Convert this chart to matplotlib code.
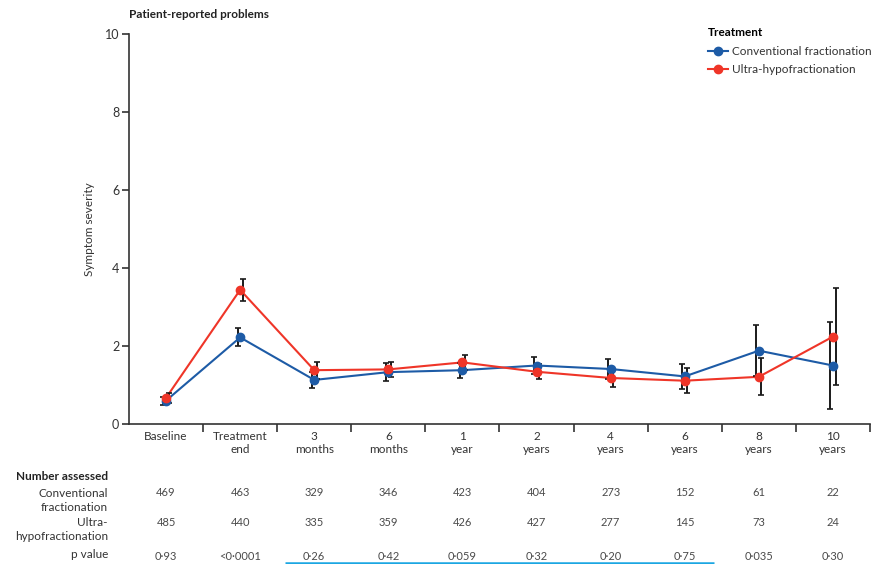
import matplotlib
matplotlib.use("Agg")
import matplotlib.pyplot as plt
import matplotlib.transforms as mtransforms
from matplotlib.lines import Line2D
import numpy as np

plt.rcParams['font.family'] = ['Lato', 'DejaVu Sans']

# Assessment time points
timepoints = ["Baseline", "Treatment\nend", "3\nmonths", "6\nmonths", "1\nyear",
              "2\nyears", "4\nyears", "6\nyears", "8\nyears", "10\nyears"]

# Mean symptom severity and 95% CI half-widths
conv_mean = [0.60, 2.22, 1.13, 1.33, 1.38, 1.50, 1.41, 1.22, 1.88, 1.50]
conv_err = [0.10, 0.23, 0.20, 0.23, 0.19, 0.21, 0.25, 0.32, 0.66, 1.12]
ultra_mean = [0.67, 3.44, 1.38, 1.40, 1.58, 1.34, 1.18, 1.11, 1.21, 2.24]
ultra_err = [0.12, 0.29, 0.22, 0.20, 0.19, 0.19, 0.22, 0.32, 0.47, 1.25]

# Number assessed and p values
n_conv = [469, 463, 329, 346, 423, 404, 273, 152, 61, 22]
n_ultra = [485, 440, 335, 359, 426, 427, 277, 145, 73, 24]
p_values = ["0·93", "<0·0001", "0·26", "0·42", "0·059", "0·32", "0·20", "0·75", "0·035", "0·30"]

blue = "#1d5ba6"
red = "#ef3528"
dark = "#333333"
grey = "#4a4a4a"

fig = plt.figure(figsize=(8.79, 5.64), dpi=100)
ax = fig.add_axes([129 / 879, 140 / 564, 741 / 879, 390 / 564])

x = np.arange(len(timepoints))
dodge = 0.035

ax.plot(x, conv_mean, color=blue, lw=1.5, zorder=2)
ax.plot(x, ultra_mean, color=red, lw=1.5, zorder=2)
ax.errorbar(x - dodge, conv_mean, yerr=conv_err, fmt='none', ecolor="#1a1a1a",
            elinewidth=1.4, capsize=2, capthick=1.2, zorder=3)
ax.errorbar(x + dodge, ultra_mean, yerr=ultra_err, fmt='none', ecolor="#1a1a1a",
            elinewidth=1.4, capsize=2, capthick=1.2, zorder=3)
ax.plot(x, conv_mean, 'o', color=blue, ms=6, zorder=4)
ax.plot(x, ultra_mean, 'o', color=red, ms=6, zorder=4)

ax.set_xlim(-0.5, len(timepoints) - 0.5)
ax.set_ylim(0, 10)
ax.set_yticks([0, 2, 4, 6, 8, 10])
ax.set_xticks(x)
ax.set_xticklabels(timepoints, fontsize=8.5, color=dark, linespacing=1.2)
ax.set_xticks(np.arange(0.5, len(timepoints), 1.0), minor=True)
ax.tick_params(axis='x', which='major', length=0, pad=5)
ax.tick_params(axis='x', which='minor', length=6, width=1.2, color=dark, direction='out')
ax.tick_params(axis='y', length=5, width=1.2, color=dark, labelsize=9, labelcolor=dark, pad=2)

for side in ("top", "right"):
    ax.spines[side].set_visible(False)
for side in ("left", "bottom"):
    ax.spines[side].set_color(dark)
    ax.spines[side].set_linewidth(1.2)

ax.set_ylabel("Symptom severity", fontsize=8.5, color=dark, labelpad=7)

fig.text(129 / 879, 1 - 15 / 564, "Patient-reported problems", fontsize=8.5,
         fontweight='bold', color="#222222", ha='left', va='center')

handles = [Line2D([], [], color=blue, lw=1.5, marker='o', ms=6),
           Line2D([], [], color=red, lw=1.5, marker='o', ms=6)]
leg = ax.legend(handles, ["Conventional fractionation", "Ultra-hypofractionation"],
                loc='upper left', bbox_to_anchor=(708 / 879, 1 - 27 / 564),
                bbox_transform=fig.transFigure, frameon=False, fontsize=8.5,
                title="Treatment", handlelength=1.7, handletextpad=0.3,
                labelspacing=0.55, borderaxespad=0, borderpad=0)
leg.get_title().set_fontweight('bold')
leg.get_title().set_fontsize(8.5)
leg._legend_box.align = "left"
leg._legend_box.sep = 6
for t in leg.get_texts():
    t.set_color(dark)

# Table of numbers assessed below the axis
trans = mtransforms.blended_transform_factory(ax.transData, fig.transFigure)
label_x = 108 / 879

def fy(py):
    return 1 - py / 564

fig.text(label_x, fy(477), "Number assessed", fontsize=8.5, fontweight='bold',
         color="#222222", ha='right', va='center')
fig.text(label_x, fy(500.5), "Conventional\nfractionation", fontsize=8.5, color=dark,
         ha='right', va='center', linespacing=1.3)
fig.text(label_x, fy(529.5), "Ultra-\nhypofractionation", fontsize=8.5, color=dark,
         ha='right', va='center', linespacing=1.3)
fig.text(label_x, fy(555), "p value", fontsize=8.5, color=dark, ha='right', va='center')

for i in range(len(timepoints)):
    ax.text(i, fy(493), str(n_conv[i]), transform=trans, fontsize=8, color=grey,
            ha='center', va='center')
    ax.text(i, fy(523), str(n_ultra[i]), transform=trans, fontsize=8, color=grey,
            ha='center', va='center')
    ax.text(i, fy(556), p_values[i], transform=trans, fontsize=8, color=grey,
            ha='center', va='center')

# Highlight rule under the non-significant p values
ax.plot([1.6, 7.4], [fy(563), fy(563)], transform=trans, color="#1ba6e2", lw=1.8,
        clip_on=False, solid_capstyle='butt')

fig.savefig("out.png", dpi=100)
